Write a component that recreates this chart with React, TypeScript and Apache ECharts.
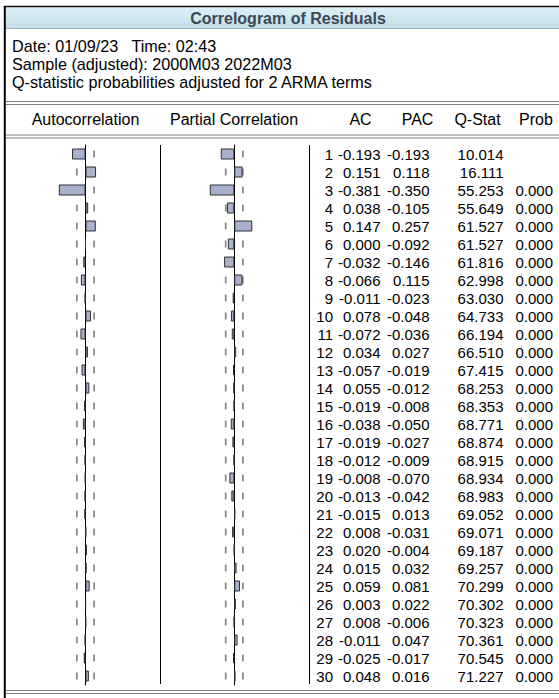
import React, { useEffect, useRef } from "react";
import * as echarts from "echarts";

const lags = Array.from({ length: 30 }, (_, i) => String(i + 1));
const acValues = [
  -0.193, 0.151, -0.381, 0.038, 0.147, 0.0, -0.032, -0.066, -0.011, 0.078,
  -0.072, 0.034, -0.057, 0.055, -0.019, -0.038, -0.019, -0.012, -0.008, -0.013,
  -0.015, 0.008, 0.02, 0.015, 0.059, 0.003, 0.008, -0.011, -0.025, 0.048,
];
const pacValues = [
  -0.193, 0.118, -0.35, -0.105, 0.257, -0.092, -0.146, 0.115, -0.023, -0.048,
  -0.036, 0.027, -0.019, -0.012, -0.008, -0.05, -0.027, -0.009, -0.07, -0.042,
  0.013, -0.031, -0.004, 0.032, 0.081, 0.022, -0.006, 0.047, -0.017, 0.016,
];
const qStats = [
  10.014, 16.111, 55.253, 55.649, 61.527, 61.527, 61.816, 62.998, 63.03, 64.733,
  66.194, 66.51, 67.415, 68.253, 68.353, 68.771, 68.874, 68.915, 68.934, 68.983,
  69.052, 69.071, 69.187, 69.257, 70.299, 70.302, 70.323, 70.361, 70.545, 71.227,
];
const probs: (number | null)[] = [
  null, null, 0.0, 0.0, 0.0, 0.0, 0.0, 0.0, 0.0, 0.0,
  0.0, 0.0, 0.0, 0.0, 0.0, 0.0, 0.0, 0.0, 0.0, 0.0,
  0.0, 0.0, 0.0, 0.0, 0.0, 0.0, 0.0, 0.0, 0.0, 0.0,
];
const confBound = 0.123;

const titleText = "Correlogram of Residuals";
const infoLines = [
  "Date: 01/09/23   Time: 02:43",
  "Sample (adjusted): 2000M03 2022M03",
  "Q-statistic probabilities adjusted for 2 ARMA terms",
];
const headers = ["Autocorrelation", "Partial Correlation", "AC", "PAC", "Q-Stat", "Prob"];

const FONT = "'Liberation Sans', Arial, sans-serif";

export default function App() {
  const ref = useRef<HTMLDivElement>(null);
  useEffect(() => {
    if (!ref.current) return;
    const chart = echarts.init(ref.current, undefined, { renderer: "svg" });

    const top = 145;
    const rowH = 18;
    const n = lags.length;
    const height = rowH * n;
    const rowY = (i: number) => top + rowH * (i + 0.5);

    const elements: any[] = [];
    // title bar
    elements.push({
      type: "rect",
      shape: { x: 5, y: 7, width: 560, height: 21 },
      style: {
        fill: new echarts.graphic.LinearGradient(0, 0, 0, 1, [
          { offset: 0, color: "#dff0f6" },
          { offset: 1, color: "#c3dee9" },
        ]),
      },
      z: 1,
    });
    elements.push({ type: "line", shape: { x1: 5, y1: 28.5, x2: 559, y2: 28.5 }, style: { stroke: "#9db7c4", lineWidth: 1 }, z: 2 });
    elements.push({ type: "line", shape: { x1: 4, y1: 6.5, x2: 559, y2: 6.5 }, style: { stroke: "#111", lineWidth: 1.5 }, z: 2 });
    elements.push({ type: "line", shape: { x1: 4.8, y1: 6, x2: 4.8, y2: 698 }, style: { stroke: "#000", lineWidth: 2 }, z: 2 });
    elements.push({
      type: "text",
      x: 288,
      y: 18,
      style: { text: titleText, fontFamily: FONT, fontSize: 16, fontWeight: "bold", fill: "#3a4756", textAlign: "center", textVerticalAlign: "middle" },
      z: 3,
    });
    infoLines.forEach((t, i) => {
      elements.push({
        type: "text",
        x: 12,
        y: 46 + 18 * i,
        style: { text: t, fontFamily: FONT, fontSize: 16.2, fill: "#000", textAlign: "left", textVerticalAlign: "middle" },
        z: 3,
      });
    });
    // double lines
    [101.5, 135].forEach((y) => {
      elements.push({ type: "line", shape: { x1: 6, y1: y, x2: 559, y2: y }, style: { stroke: "#7d7d7d", lineWidth: 1 }, z: 2 });
      elements.push({ type: "line", shape: { x1: 6, y1: y + 3, x2: 559, y2: y + 3 }, style: { stroke: "#7d7d7d", lineWidth: 1 }, z: 2 });
    });
    elements.push({ type: "line", shape: { x1: 6, y1: 690.5, x2: 559, y2: 690.5 }, style: { stroke: "#7d7d7d", lineWidth: 1 }, z: 2 });
    elements.push({ type: "line", shape: { x1: 6, y1: 693.5, x2: 559, y2: 693.5 }, style: { stroke: "#7d7d7d", lineWidth: 1 }, z: 2 });

    const headerX = [85.5, 234, 360.5, 417.5, 477.5, 536];
    headers.forEach((h, i) => {
      elements.push({
        type: "text",
        x: headerX[i],
        y: 119,
        style: { text: h, fontFamily: FONT, fontSize: 16, fill: "#000", textAlign: "center", textVerticalAlign: "middle" },
        z: 3,
      });
    });
    // separators
    [160.5, 309.5].forEach((x) => {
      elements.push({ type: "line", shape: { x1: x, y1: top, x2: x, y2: top + height - 1 }, style: { stroke: "#000", lineWidth: 1 }, z: 2 });
    });
    // table
    const colRight = [333, 380.5, 429.5, 503.5, 553];
    lags.forEach((lag, i) => {
      const cells = [
        lag,
        acValues[i].toFixed(3),
        pacValues[i].toFixed(3),
        qStats[i].toFixed(3),
        probs[i] === null ? "" : (probs[i] as number).toFixed(3),
      ];
      cells.forEach((c, j) => {
        if (!c) return;
        elements.push({
          type: "text",
          x: colRight[j],
          y: rowY(i) + 0.5,
          style: { text: c, fontFamily: FONT, fontSize: 15, fill: "#000", textAlign: "right", textVerticalAlign: "middle" },
          z: 3,
        });
      });
    });

    const dashData = () =>
      lags.flatMap((_, i) => [
        [confBound, i],
        [-confBound, i],
      ]);

    const grids = [
      { left: 15.5, top, width: 140, height, containLabel: false },
      { left: 164.3, top, width: 140, height, containLabel: false },
    ];

    const option: any = {
      animation: false,
      backgroundColor: "#fff",
      grid: grids,
      xAxis: grids.map((_, gi) => ({
        type: "value",
        gridIndex: gi,
        min: -1,
        max: 1,
        show: false,
      })),
      yAxis: grids.map((_, gi) => ({
        type: "category",
        gridIndex: gi,
        data: lags,
        inverse: true,
        axisLine: { show: true, onZero: true, lineStyle: { color: "#000", width: 1 } },
        axisTick: { show: false },
        axisLabel: { show: false },
        splitLine: { show: false },
      })),
      series: [
        {
          type: "scatter",
          xAxisIndex: 0,
          yAxisIndex: 0,
          data: dashData(),
          symbol: "rect",
          symbolSize: [1.7, 7],
          itemStyle: { color: "#666" },
          silent: true,
          z: 1,
        },
        {
          type: "scatter",
          xAxisIndex: 1,
          yAxisIndex: 1,
          data: dashData(),
          symbol: "rect",
          symbolSize: [1.7, 7],
          itemStyle: { color: "#666" },
          silent: true,
          z: 1,
        },
        {
          type: "bar",
          xAxisIndex: 0,
          yAxisIndex: 0,
          data: acValues,
          barWidth: 11,
          itemStyle: { color: "#a9b1cd", borderColor: "#2f2f2f", borderWidth: 1 },
          z: 3,
        },
        {
          type: "bar",
          xAxisIndex: 1,
          yAxisIndex: 1,
          data: pacValues,
          barWidth: 11,
          itemStyle: { color: "#a9b1cd", borderColor: "#2f2f2f", borderWidth: 1 },
          z: 3,
        },
      ],
      graphic: { elements },
    };
    chart.setOption(option);
    return () => chart.dispose();
  }, []);
  return (
    <div
      ref={ref}
      style={{ position: "absolute", left: 0, top: 0, width: 559, height: 698, background: "#fff" }}
    />
  );
}
